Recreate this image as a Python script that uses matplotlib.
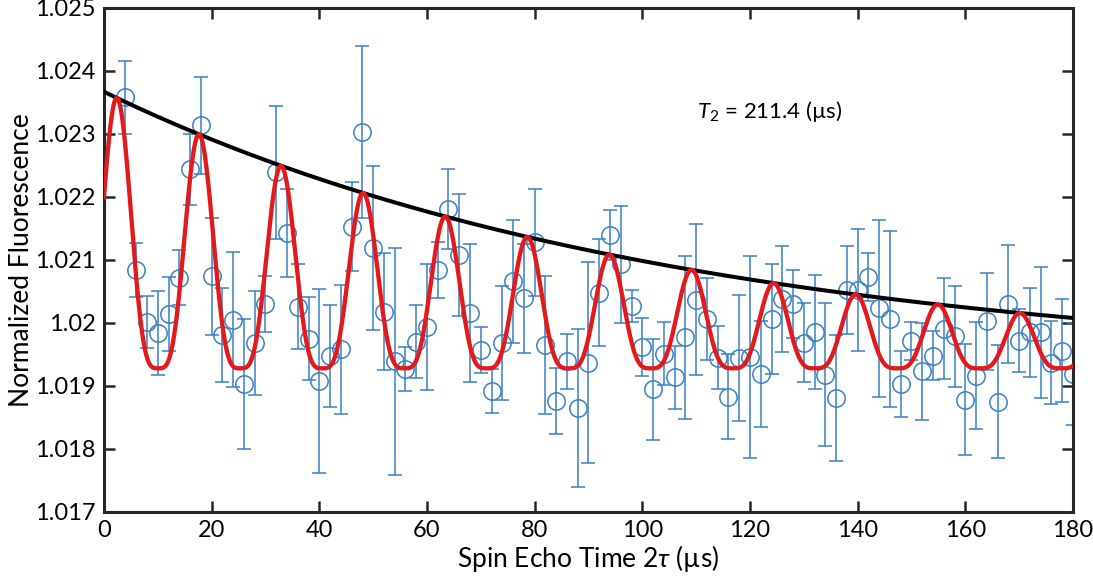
import numpy as np
import matplotlib
matplotlib.use("Agg")
import matplotlib.pyplot as plt

plt.rcParams['font.family'] = ['Lato', 'DejaVu Sans']
plt.rcParams['mathtext.fontset'] = 'custom'
plt.rcParams['mathtext.rm'] = 'Lato'
plt.rcParams['mathtext.it'] = 'Lato:italic'

# measured data: spin echo time (us), normalized fluorescence, error
t_us = list(range(4, 181, 2))
fluo = [1.02358, 1.02084, 1.02002, 1.01984, 1.02014, 1.02072, 1.02244, 1.02314,
        1.02074, 1.01981, 1.02005, 1.01903, 1.01968, 1.02030, 1.02239, 1.02143,
        1.02026, 1.01975, 1.01908, 1.01948, 1.01958, 1.02153, 1.02303, 1.02119,
        1.02018, 1.01939, 1.01927, 1.01970, 1.01993, 1.02084, 1.02181, 1.02108,
        1.02016, 1.01957, 1.01892, 1.01968, 1.02066, 1.02039, 1.02128, 1.01965,
        1.01876, 1.01939, 1.01865, 1.01937, 1.02048, 1.02140, 1.02093, 1.02027,
        1.01962, 1.01895, 1.01951, 1.01914, 1.01977, 1.02037, 1.02006, 1.01945,
        1.01883, 1.01945, 1.01946, 1.01919, 1.02006, 1.02038, 1.02030, 1.01969,
        1.01986, 1.01918, 1.01881, 1.02052, 1.02052, 1.02073, 1.02023, 1.02006,
        1.01903, 1.01972, 1.01923, 1.01948, 1.01991, 1.01979, 1.01878, 1.01916,
        1.02003, 1.01875, 1.02030, 1.01972, 1.01985, 1.01985, 1.01937, 1.01956,
        1.01919]
err = [0.00058, 0.00043, 0.00041, 0.00066, 0.00059, 0.00044, 0.00056, 0.00077,
       0.00093, 0.00075, 0.00107, 0.00103, 0.00082, 0.00044, 0.00106, 0.00070,
       0.00068, 0.00066, 0.00146, 0.00081, 0.00103, 0.00070, 0.00137, 0.00130,
       0.00093, 0.00180, 0.00035, 0.00058, 0.00100, 0.00044, 0.00064, 0.00097,
       0.00110, 0.00036, 0.00035, 0.00090, 0.00097, 0.00086, 0.00085, 0.00110,
       0.00052, 0.00043, 0.00125, 0.00160, 0.00085, 0.00040, 0.00093, 0.00026,
       0.00046, 0.00080, 0.00050, 0.00050, 0.00130, 0.00120, 0.00065, 0.00050,
       0.00067, 0.00100, 0.00160, 0.00084, 0.00087, 0.00084, 0.00054, 0.00063,
       0.00090, 0.00113, 0.00100, 0.00070, 0.00097, 0.00038, 0.00140, 0.00140,
       0.00052, 0.00030, 0.00077, 0.00039, 0.00080, 0.00080, 0.00088, 0.00085,
       0.00077, 0.00090, 0.00093, 0.00050, 0.00071, 0.00104, 0.00066, 0.00082,
       0.00081]

# fit parameters
T2 = 211.4
base = 1.01928
amp = 0.00439
period = 15.25
t_peak = 2.45
power = 3.6

tt = np.linspace(0, 180, 2000)
env = base + amp * np.exp(-2 * tt / T2)
fit = base + (env - base) * np.abs(np.cos(np.pi * (tt - t_peak) / period)) ** power

fig = plt.figure(figsize=(10.93, 5.87), dpi=100)
ax = fig.add_axes([0.0951, 0.1278, 0.8866, 0.8586])

ax.errorbar(t_us, fluo, yerr=err, fmt='o', mfc='none', mec='#3a80c4', ms=12.5,
            mew=1.1, ecolor='#3a80c4', elinewidth=1.1, capsize=4.8, capthick=1.1,
            zorder=2)
ax.plot(tt, env, color='black', lw=2.9, zorder=3)
ax.plot(tt, fit, color='#e31a1c', lw=3.1, zorder=4)

ax.text(110.2, 1.02335, r'$T_2$ = 211.4 (µs)', fontsize=16, va='center', ha='left')

ax.set_xlim(0, 180)
ax.set_ylim(1.017, 1.025)
ax.set_xticks(range(0, 181, 20))
yt = [1.017, 1.018, 1.019, 1.02, 1.021, 1.022, 1.023, 1.024, 1.025]
ax.set_yticks(yt)
ax.set_yticklabels([('%g' % v) if v != 1.02 else '1.02' for v in yt])
ax.tick_params(direction='in', length=8, width=1.8, top=True, right=True,
               labelsize=17, color='#262626', pad=6)
for s in ax.spines.values():
    s.set_linewidth(2.2)
    s.set_color('#262626')

ax.set_xlabel(r'Spin Echo Time 2$\tau$ (µs)', fontsize=19, labelpad=1)
ax.set_ylabel('Normalized Fluorescence', fontsize=19, labelpad=1)

fig.savefig('out.png', dpi=100)
